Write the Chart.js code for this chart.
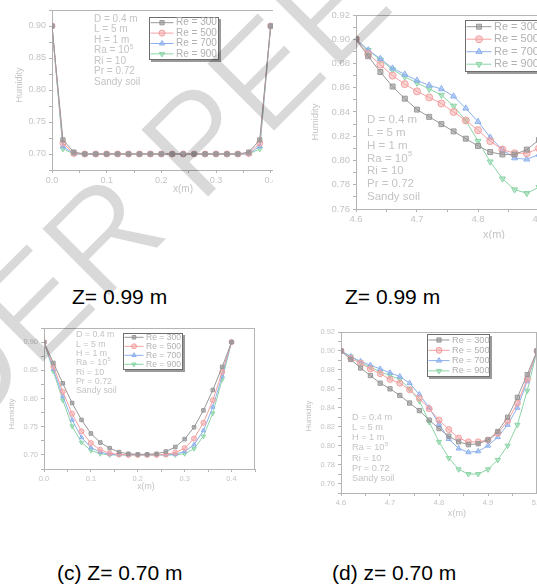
<!DOCTYPE html>
<html>
<head>
<meta charset="utf-8">
<script src="https://cdn.jsdelivr.net/npm/chart.js@4.4.1/dist/chart.umd.min.js"></script>
<style>
  html, body { margin: 0; padding: 0; background: #fff; }
  body { width: 537px; height: 584px; overflow: hidden; position: relative; font-family: 'Liberation Sans', Arial, sans-serif; }
  .wrap { position: absolute; overflow: hidden; }
  .wrap canvas { position: absolute; }
  .cap { position: absolute; font-size: 21px; line-height: 21px; color: #000; white-space: nowrap; }
  #wm { position: absolute; left: 0; top: 0; pointer-events: none; }
</style>
</head>
<body>

<div class="wrap" style="left:0;top:0;width:273px;height:240px;"><canvas id="chartA" width="310" height="200" style="left:0;top:0;"></canvas></div>
<div class="wrap" style="left:273px;top:0;width:264px;height:240px;"><canvas id="chartB" width="310" height="239" style="left:27px;top:0;"></canvas></div>
<div class="wrap" style="left:0;top:318px;width:273px;height:190px;"><canvas id="chartC" width="265" height="181" style="left:0;top:0;"></canvas></div>
<div class="wrap" style="left:273px;top:322px;width:264px;height:205px;"><canvas id="chartD" width="247" height="201" style="left:27px;top:0;"></canvas></div>

<div class="cap" style="left:72px;top:286px;">Z= 0.99 m</div>
<div class="cap" style="left:345px;top:286px;">Z= 0.99 m</div>
<div class="cap" style="left:57px;top:562px;">(c) Z= 0.70 m</div>
<div class="cap" style="left:332px;top:562px;">(d) z= 0.70 m</div>

<canvas id="wm" width="537" height="584"></canvas>

<script>
// ---- data ----
const reLabels = ['Re = 300', 'Re = 500', 'Re = 700', 'Re = 900'];

// x positions (m)
const xShort = [0.00, 0.02, 0.04, 0.06, 0.08, 0.10, 0.12, 0.14, 0.16, 0.18, 0.20,
                0.22, 0.24, 0.26, 0.28, 0.30, 0.32, 0.34, 0.36, 0.38, 0.40];
const xLong = [4.60, 4.62, 4.64, 4.66, 4.68, 4.70, 4.72, 4.74, 4.76, 4.78, 4.80,
               4.82, 4.84, 4.86, 4.88, 4.90, 4.92, 4.94, 4.96, 4.98, 5.00];

// (a) Z = 0.99 m, x 0 - 0.4
const a300 = [0.900, 0.722, 0.703, 0.700, 0.700, 0.700, 0.700, 0.700, 0.700, 0.700, 0.700,
              0.700, 0.700, 0.700, 0.700, 0.700, 0.700, 0.700, 0.703, 0.722, 0.900];
const a500 = [0.900, 0.717, 0.701, 0.700, 0.700, 0.700, 0.700, 0.700, 0.700, 0.700, 0.700,
              0.700, 0.700, 0.700, 0.700, 0.700, 0.700, 0.700, 0.701, 0.717, 0.900];
const a700 = [0.900, 0.712, 0.700, 0.700, 0.700, 0.700, 0.700, 0.700, 0.700, 0.700, 0.700,
              0.700, 0.700, 0.700, 0.700, 0.700, 0.700, 0.700, 0.700, 0.712, 0.900];
const a900 = [0.900, 0.708, 0.700, 0.700, 0.700, 0.700, 0.700, 0.700, 0.700, 0.700, 0.700,
              0.700, 0.700, 0.700, 0.700, 0.700, 0.700, 0.700, 0.700, 0.708, 0.900];

// (b) Z = 0.99 m, x 4.6 - 5.0
const b300 = [0.900, 0.886, 0.873, 0.861, 0.851, 0.842, 0.836, 0.830, 0.824, 0.818, 0.812,
              0.807, 0.805, 0.805, 0.809, 0.817, 0.830, 0.845, 0.862, 0.880, 0.900];
const b500 = [0.900, 0.888, 0.879, 0.870, 0.863, 0.857, 0.852, 0.847, 0.840, 0.833, 0.825,
              0.816, 0.809, 0.806, 0.806, 0.810, 0.818, 0.833, 0.852, 0.875, 0.900];
const b700 = [0.900, 0.891, 0.884, 0.876, 0.871, 0.866, 0.862, 0.859, 0.853, 0.843, 0.832,
              0.819, 0.809, 0.802, 0.801, 0.805, 0.813, 0.826, 0.845, 0.870, 0.900];
const b900 = [0.900, 0.891, 0.883, 0.875, 0.869, 0.864, 0.859, 0.854, 0.845, 0.833, 0.816,
              0.799, 0.785, 0.776, 0.773, 0.778, 0.787, 0.803, 0.825, 0.860, 0.900];

// (c) Z = 0.70 m, x 0 - 0.4
const c300 = [0.900, 0.863, 0.827, 0.792, 0.762, 0.738, 0.722, 0.712, 0.705, 0.702, 0.701,
              0.701, 0.702, 0.706, 0.714, 0.728, 0.749, 0.779, 0.815, 0.856, 0.900];
const c500 = [0.900, 0.857, 0.812, 0.773, 0.742, 0.721, 0.709, 0.703, 0.701, 0.700, 0.700,
              0.700, 0.700, 0.701, 0.704, 0.712, 0.729, 0.757, 0.797, 0.847, 0.900];
const c700 = [0.900, 0.852, 0.804, 0.762, 0.731, 0.713, 0.705, 0.701, 0.700, 0.700, 0.700,
              0.700, 0.700, 0.700, 0.701, 0.706, 0.718, 0.743, 0.785, 0.840, 0.900];
const c900 = [0.900, 0.848, 0.797, 0.751, 0.722, 0.708, 0.702, 0.700, 0.700, 0.700, 0.700,
              0.700, 0.700, 0.700, 0.700, 0.702, 0.711, 0.733, 0.774, 0.834, 0.900];

// (d) Z = 0.70 m, x 4.6 - 5.0
const d300 = [0.900, 0.891, 0.882, 0.874, 0.866, 0.860, 0.853, 0.845, 0.837, 0.827, 0.818,
              0.810, 0.804, 0.801, 0.802, 0.806, 0.815, 0.830, 0.851, 0.875, 0.900];
const d500 = [0.900, 0.892, 0.887, 0.881, 0.876, 0.870, 0.866, 0.859, 0.850, 0.839, 0.827,
              0.817, 0.808, 0.804, 0.804, 0.806, 0.813, 0.826, 0.845, 0.870, 0.900];
const d700 = [0.900, 0.894, 0.889, 0.885, 0.881, 0.877, 0.873, 0.866, 0.854, 0.840, 0.823,
              0.807, 0.797, 0.793, 0.794, 0.800, 0.809, 0.822, 0.840, 0.868, 0.900];
const d900 = [0.900, 0.894, 0.888, 0.883, 0.878, 0.874, 0.870, 0.860, 0.847, 0.825, 0.804,
              0.787, 0.775, 0.770, 0.770, 0.775, 0.785, 0.800, 0.822, 0.858, 0.900];

const notes = ['D = 0.4 m', 'L = 5 m', 'H = 1 m', ['Ra = 10', '5'], 'Ri = 10', 'Pr = 0.72', 'Sandy soil'];

// ---- styles ----
const FONT = "'Liberation Sans', Arial, sans-serif";
const axisColor = '#b4b4b4';
const textColor = '#c4c4c4';
const lineColors = ['#999999', '#f3a0a0', '#8cb0ee', '#8cd5a7'];
const fillColors = ['rgba(140,140,140,0.55)', 'rgba(243,160,160,0.45)', 'rgba(140,176,238,0.5)', 'rgba(140,213,167,0.5)'];
const markers = ['rect', 'circle', 'triangle', 'triangle'];
const rotations = [0, 0, 0, 180];

const isMajor = (v, step) => Math.abs(v / step - Math.round(v / step)) < 1e-6;

// draws the box frame, inside legend, note text and axis titles
const decor = {
    id: 'decor',
    afterDatasetsDraw(chart, args, o) {
        const ctx = chart.ctx;
        const a = chart.chartArea;
        ctx.save();

        // top and right border of the frame
        ctx.strokeStyle = axisColor;
        ctx.lineWidth = 1;
        ctx.beginPath();
        ctx.moveTo(a.left, Math.round(a.top) + 0.5);
        ctx.lineTo(a.right, Math.round(a.top) + 0.5);
        ctx.moveTo(Math.round(a.right) - 0.5, a.top);
        ctx.lineTo(Math.round(a.right) - 0.5, a.bottom);
        ctx.stroke();

        // notes
        ctx.fillStyle = textColor;
        ctx.textBaseline = 'middle';
        ctx.textAlign = 'left';
        notes.forEach((n, i) => {
            const y = o.note.y + i * o.note.dy;
            ctx.font = o.note.size + 'px ' + FONT;
            if (Array.isArray(n)) {
                ctx.fillText(n[0], o.note.x, y);
                const w = ctx.measureText(n[0]).width;
                ctx.font = (o.note.size * 0.65) + 'px ' + FONT;
                ctx.fillText(n[1], o.note.x + w + 0.5, y - o.note.size * 0.35);
            } else {
                ctx.fillText(n, o.note.x, y);
            }
        });

        // axis titles
        ctx.font = o.xt.size + 'px ' + FONT;
        ctx.textAlign = 'center';
        ctx.fillText('x(m)', o.xt.x, o.xt.y);
        ctx.save();
        ctx.translate(o.yt.x, o.yt.y);
        ctx.rotate(-Math.PI / 2);
        ctx.font = o.yt.size + 'px ' + FONT;
        ctx.fillText('Humidity', 0, 0);
        ctx.restore();

        // legend box
        const L = o.legend;
        ctx.fillStyle = '#9a9a9a';
        ctx.fillRect(L.x + 2, L.y + 2, L.w, L.h);
        ctx.fillStyle = '#ffffff';
        ctx.fillRect(L.x, L.y, L.w, L.h);
        ctx.strokeStyle = '#6e6e6e';
        ctx.lineWidth = 1;
        ctx.strokeRect(L.x + 0.5, L.y + 0.5, L.w - 1, L.h - 1);
        ctx.textAlign = 'left';
        ctx.font = L.size + 'px ' + FONT;
        reLabels.forEach((lab, i) => {
            const y = L.y + L.first + i * L.dy;
            ctx.strokeStyle = lineColors[i];
            ctx.beginPath();
            ctx.moveTo(L.x + 1.5, y);
            ctx.lineTo(L.x + 1.5 + L.line, y);
            ctx.stroke();
            ctx.fillStyle = fillColors[i];
            Chart.helpers.drawPoint(ctx, {
                pointStyle: markers[i], rotation: rotations[i], radius: L.r, borderWidth: 1
            }, L.x + 1.5 + L.line / 2, y);
            ctx.fillStyle = '#b0b0b0';
            ctx.fillText(lab, L.x + L.line + 4, y);
        });
        ctx.restore();
    }
};

function panel(id, p) {
    const series = p.series;
    return new Chart(document.getElementById(id), {
        type: 'line',
        data: {
            datasets: series.map((ys, i) => ({
                label: reLabels[i],
                data: p.x.map((x, j) => ({ x: x, y: ys[j] })),
                borderColor: lineColors[i],
                backgroundColor: fillColors[i],
                borderWidth: 1,
                pointStyle: markers[i],
                pointRotation: rotations[i],
                pointRadius: p.r,
                pointBorderWidth: 1,
                tension: 0
            }))
        },
        options: {
            responsive: false,
            animation: false,
            devicePixelRatio: 1,
            layout: { padding: { top: p.padTop, right: p.padRight, left: 0, bottom: 0 } },
            plugins: {
                legend: { display: false },
                tooltip: { enabled: false },
                decor: p.decor
            },
            scales: {
                x: {
                    type: 'linear',
                    min: p.xMin, max: p.xMax,
                    afterFit: s => { s.height = p.xH; },
                    ticks: {
                        stepSize: p.xStep / 2, autoSkip: false, maxRotation: 0,
                        padding: 2, color: textColor, font: { family: FONT, size: p.tick },
                        callback: v => isMajor(v, p.xStep) ? v.toFixed(1) : ''
                    },
                    grid: { drawOnChartArea: false, tickLength: 3, color: axisColor },
                    border: { color: axisColor }
                },
                y: {
                    type: 'linear',
                    min: p.yMin, max: p.yMax,
                    afterFit: s => { s.width = p.yW; },
                    ticks: {
                        stepSize: p.yStep / 2, autoSkip: false,
                        padding: 3, color: textColor, font: { family: FONT, size: p.tick },
                        callback: v => isMajor(v, p.yStep) ? v.toFixed(2) : ''
                    },
                    grid: { drawOnChartArea: false, tickLength: 3, color: axisColor },
                    border: { color: axisColor }
                }
            }
        },
        plugins: [decor]
    });
}

// (a)
panel('chartA', {
    x: xShort, series: [a300, a500, a700, a900], r: 3,
    xMin: 0, xMax: 0.45, xStep: 0.1, yMin: 0.675, yMax: 0.925, yStep: 0.05,
    yW: 52, xH: 30, padTop: 10, padRight: 12, tick: 9,
    decor: {
        note: { x: 94, y: 19, dy: 10.5, size: 10 },
        xt: { x: 183, y: 189, size: 10 },
        yt: { x: 20, y: 85, size: 9 },
        legend: { x: 149, y: 17, w: 70, h: 43, first: 5.7, dy: 10.4, line: 23, r: 3, size: 10 }
    }
});

// (b)
panel('chartB', {
    x: xLong, series: [b300, b500, b700, b900], r: 3.5,
    xMin: 4.6, xMax: 5.0, xStep: 0.1, yMin: 0.76, yMax: 0.92, yStep: 0.02,
    yW: 56, xH: 30, padTop: 15, padRight: 10, tick: 9.5,
    decor: {
        note: { x: 67, y: 120, dy: 12.8, size: 11.5 },
        xt: { x: 194, y: 235, size: 11 },
        yt: { x: 15, y: 122, size: 9.5 },
        legend: { x: 165, y: 20, w: 80, h: 52, first: 6.7, dy: 12.5, line: 25, r: 3.5, size: 11 }
    }
});

// (c)
panel('chartC', {
    x: xShort, series: [c300, c500, c700, c900], r: 2.5,
    xMin: 0, xMax: 0.45, xStep: 0.1, yMin: 0.675, yMax: 0.925, yStep: 0.05,
    yW: 44, xH: 30, padTop: 10, padRight: 10, tick: 7.5,
    decor: {
        note: { x: 76, y: 17, dy: 9.3, size: 8.8 },
        xt: { x: 146, y: 169, size: 8.8 },
        yt: { x: 12, y: 96, size: 8 },
        legend: { x: 123, y: 15, w: 60, h: 37, first: 4.3, dy: 9, line: 19, r: 2.5, size: 8.6 }
    }
});

// (d)
panel('chartD', {
    x: xLong, series: [d300, d500, d700, d900], r: 3,
    xMin: 4.6, xMax: 5.0, xStep: 0.1, yMin: 0.75, yMax: 0.92, yStep: 0.02,
    yW: 41, xH: 30, padTop: 10, padRight: 10, tick: 7.5,
    decor: {
        note: { x: 52, y: 95, dy: 10.3, size: 9.2 },
        xt: { x: 157, y: 191, size: 9.2 },
        yt: { x: 9, y: 94, size: 8 },
        legend: { x: 127, y: 12, w: 63, h: 43, first: 6, dy: 10.3, line: 21, r: 3, size: 9.2 }
    }
});

// faint diagonal stamp over the top half of the figure
const wm = document.getElementById('wm').getContext('2d');
wm.font = '140px ' + FONT;
const wmText = 'UNDER PEER REVIEW';
const wmOffset = wm.measureText('UNDER ').width;
wm.translate(200, 206);
wm.rotate(-45 * Math.PI / 180);
wm.fillStyle = 'rgba(0,0,0,0.15)';
wm.fillText(wmText, -wmOffset, 0);
// thin the strokes a little
wm.globalCompositeOperation = 'destination-out';
wm.lineWidth = 2;
wm.strokeStyle = '#000';
wm.strokeText(wmText, -wmOffset, 0);
</script>
</body>
</html>
